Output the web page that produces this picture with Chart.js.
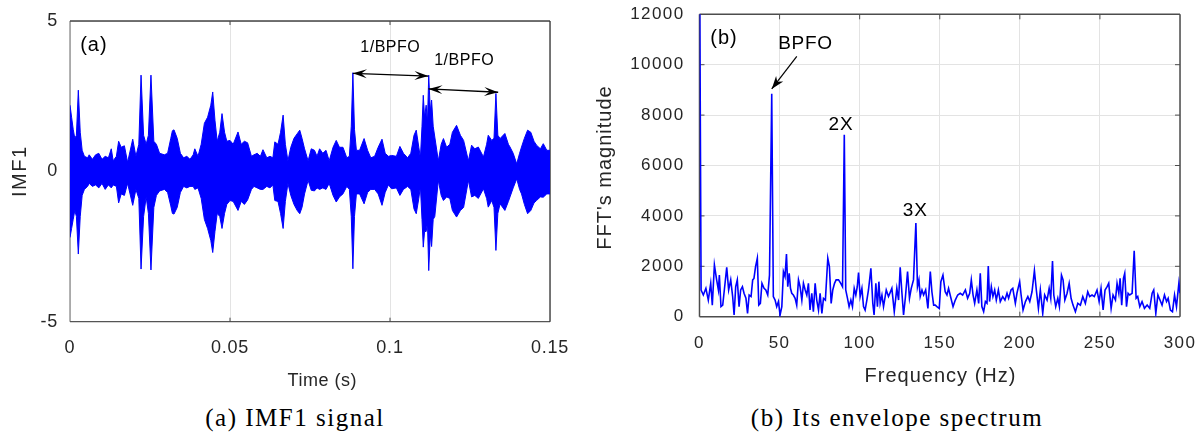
<!DOCTYPE html>
<html>
<head>
<meta charset="utf-8">
<script src="https://cdn.jsdelivr.net/npm/chart.js@4.4.1/dist/chart.umd.min.js"></script>
<style>
  html, body { margin: 0; padding: 0; background: #fff; }
  body { width: 1203px; height: 436px; position: relative; overflow: hidden; }
  .pane { position: absolute; top: 0; height: 400px; }
  .cap {
    position: absolute; top: 403px; line-height: 30px;
    font-family: "Liberation Serif", "Times New Roman", serif; font-size: 25px;
    letter-spacing: 1.5px;
    color: #000; white-space: nowrap; transform: translateX(-50%);
  }
</style>
</head>
<body>
<div class="pane" style="left:0;width:590px"><canvas id="imf" width="590" height="400"></canvas></div>
<div class="pane" style="left:590px;width:613px"><canvas id="spec" width="613" height="400"></canvas></div>
<div class="cap" style="left:295px">(a) IMF1 signal</div>
<div class="cap" style="left:897px">(b) Its envelope spectrum</div>

<script>
// ---- IMF1 signal: time stamps (ms) with upper / lower envelope of the oscillation ----
const timeMs = [
  0, 0.5, 1, 1.5, 2, 2.6, 3.2, 3.8, 4.5, 5.5,
  6, 7, 8, 9, 10, 11, 12, 12.9, 13.5, 14.5,
  15.2, 16, 17, 18, 19.6, 20.6, 21.5, 22.2, 23, 23.8,
  24.5, 25.3, 26.2, 27, 28, 29.5, 30.5, 31.5, 32, 32.5,
  33.5, 34.5, 35.5, 36.5, 37.5, 38.5, 39, 40, 41, 42,
  43, 44, 44.6, 45.3, 46, 46.8, 47.5, 48.3, 49, 50,
  51, 52.5, 53.5, 54.5, 55.5, 56.7, 57.5, 58.5, 59.5, 60.3,
  61.5, 62.5, 63.4, 64, 65, 65.8, 66.6, 67.3, 68.1, 69,
  70, 71, 71.8, 72.5, 73.3, 74.4, 75.4, 76.4, 77.2, 78,
  79, 80, 81, 82.2, 83.2, 84.2, 85.3, 86.5, 87.3, 87.9,
  88.4, 88.9, 89.5, 90.5, 91.9, 93, 94, 95.2, 96.3, 97.5,
  98.5, 99.5, 100.5, 102, 103.1, 104.2, 105.5, 106.5, 107.5, 108.2,
  109, 109.5, 110, 110.4, 110.8, 111.3, 111.7, 112.1, 112.6, 113,
  113.5, 114, 115.1, 116, 116.7, 117.7, 118.7, 119.5, 120.8, 122,
  123, 124.5, 125.5, 126.5, 127.6, 129.2, 130.2, 130.7, 131.8, 132.5,
  133.1, 133.7, 134.4, 135.9, 137, 137.5, 138.5, 139.6, 140.5, 141.1,
  142, 143, 144, 145, 145.8, 147, 147.9, 149, 150
];
const imfUpper = [
  2.2, 1.8, 1.4, 1.1, 1.2, 2.7, 1.3, 0.7, 0.5, 0.45,
  0.55, 0.4, 0.55, 0.6, 0.4, 0.5, 0.45, 0.75, 0.35, 0.5,
  1.0, 0.8, 0.85, 0.3, 1.07, 0.5, 0.9, 3.2, 1.2, 0.9,
  1.2, 3.2, 1.0, 0.9, 0.6, 0.55, 0.6, 1.1, 1.35, 1.38,
  1.1, 0.6, 0.45, 0.5, 0.4, 0.55, 0.75, 0.5, 0.9, 1.6,
  1.8, 2.2, 2.64, 1.7, 1.0, 1.3, 1.92, 1.3, 1.0, 1.03,
  0.9, 1.31, 0.9, 1.0, 0.95, 0.5, 0.55, 0.6, 0.5, 0.72,
  0.45, 0.5, 0.45, 0.98, 0.9, 1.3, 1.87, 0.9, 0.35, 0.8,
  1.1, 1.25, 1.37, 1.1, 0.75, 0.35, 0.75, 0.7, 0.5, 0.75,
  0.6, 0.7, 0.35, 0.8, 1.03, 0.8, 0.8, 0.45, 0.5, 1.5,
  3.28, 1.4, 0.7, 0.7, 1.09, 0.7, 0.45, 0.5, 0.8, 1.07,
  0.6, 0.5, 0.53, 0.5, 0.83, 0.6, 0.45, 0.6, 1.2, 1.37,
  0.8, 0.45, 1.5, 2.53, 1.8, 2.2, 1.6, 3.2, 2.0, 2.37,
  1.5, 1.14, 0.35, 0.9, 1.09, 0.8, 0.9, 1.3, 1.53, 1.2,
  1.03, 0.35, 0.87, 0.75, 0.81, 0.48, 0.9, 1.2, 1.03, 1.1,
  2.59, 1.2, 1.09, 1.26, 0.9, 0.81, 0.6, 0.25, 0.6, 0.81,
  1.1, 1.37, 1.3, 1.0, 0.87, 0.75, 0.92, 0.7, 0.7
];
const imfLower = [
  -2.2, -1.9, -1.6, -1.3, -1.5, -2.75, -1.5, -0.8, -0.6, -0.5,
  -0.4, -0.5, -0.45, -0.55, -0.4, -0.6, -0.45, -0.55, -0.45, -0.5,
  -1.05, -0.75, -0.8, -0.4, -1.13, -0.6, -0.9, -3.25, -1.5, -0.85,
  -1.4, -3.28, -1.2, -0.8, -0.65, -0.6, -0.7, -1.15, -1.4, -1.42,
  -1.2, -0.7, -0.5, -0.55, -0.5, -0.5, -0.6, -0.55, -0.9, -1.6,
  -1.9, -2.3, -2.7, -2.0, -1.4, -1.5, -1.9, -1.4, -1.1, -0.97,
  -1.0, -1.3, -1.0, -1.1, -0.95, -0.6, -0.5, -0.55, -0.6, -0.6,
  -0.5, -0.55, -0.45, -0.97, -1.0, -1.4, -1.9, -1.0, -0.4, -0.8,
  -1.1, -1.3, -1.41, -1.2, -0.75, -0.3, -0.63, -0.65, -0.55, -0.6,
  -0.55, -0.6, -0.4, -0.8, -1.02, -0.85, -0.75, -0.5, -0.6, -1.5,
  -3.24, -1.5, -0.75, -0.75, -1.08, -0.7, -0.6, -0.6, -0.75, -1.13,
  -0.7, -0.45, -0.58, -0.55, -0.8, -0.6, -0.5, -0.6, -1.25, -1.41,
  -0.9, -0.5, -1.6, -2.52, -2.0, -2.0, -1.7, -3.3, -2.1, -2.5,
  -1.6, -1.5, -0.3, -0.8, -0.97, -0.85, -0.9, -1.3, -1.52, -1.3,
  -1.2, -0.3, -0.85, -0.8, -0.9, -0.58, -0.9, -1.19, -0.97, -1.2,
  -2.63, -1.4, -1.08, -1.3, -1.0, -0.85, -0.55, -0.25, -0.6, -0.75,
  -1.1, -1.41, -1.3, -1.05, -0.97, -0.85, -0.86, -0.75, -0.75
];
const timeTicks = [0, 0.05, 0.1, 0.15];
const imfTicks = [-5, 0, 5];

// ---- Envelope spectrum ----
const freqHz = [
  0, 1, 2.4, 4, 5.5, 7, 8, 9.3, 10.7, 11.8,
  12.4, 13.4, 14.5, 15.5, 17, 18.2, 19.5, 20.7, 21.6, 22.6,
  23.6, 24.7, 25.7, 26.8, 27.8, 29, 30, 31, 32.2, 33.2,
  34, 35, 36.1, 37, 38, 39, 40.3, 41.4, 42.6, 43.7,
  45.1, 46.1, 47.2, 48.2, 49.3, 50.3, 51.4, 52.4, 53.4, 54.3,
  55.1, 56, 56.8, 57.6, 58.6, 59.7, 60.7, 61.8, 62.8, 63.9,
  64.9, 66, 67, 68, 69, 70.1, 71.1, 72.2, 73.2, 74.3,
  75.3, 76.4, 77.4, 78.6, 80.1, 81.1, 82.2, 83.2, 84.3, 85.3,
  86.8, 88.2, 89.3, 90.4, 91.3, 92.4, 93.4, 94.5, 95.5, 96.6,
  97.6, 98.5, 99.3, 100.3, 101.4, 102.4, 103.4, 104.5, 105.5, 107,
  108.2, 109, 110.1, 111.1, 112, 112.8, 113.9, 114.9, 116.6, 118,
  120.1, 121.6, 123.2, 124.3, 125.3, 126.4, 127.4, 128.6, 129.9, 131.1,
  132.2, 133.6, 135.1, 136.1, 137, 137.8, 138.9, 139.9, 141.2, 142.6,
  144.1, 145.1, 146.2, 147.2, 148.2, 149.7, 150.7, 152, 153.4, 154.5,
  155.5, 157, 158.3, 159.7, 161.2, 162.8, 164.3, 166, 167.4, 168.7,
  169.7, 170.8, 171.8, 173.2, 174.3, 175.3, 176.3, 177.4, 178.5, 179.5,
  180.3, 181.1, 182.2, 183.2, 184.3, 185.3, 186.6, 187.8, 189.3, 190.7,
  192, 193, 194.5, 195.6, 197.2, 198.2, 199.9, 200.8, 202, 203.5,
  205, 206.2, 207.6, 209.1, 210.3, 211.6, 212.8, 214.3, 215.5, 217,
  218.3, 219.3, 220.4, 221.2, 222.4, 223.7, 224.7, 226, 227, 228.1,
  229.5, 230.8, 232, 233.2, 234.7, 236.2, 237.8, 239.3, 240.9, 242.4,
  243.6, 245.1, 246.5, 248.2, 249.5, 250.7, 252, 253.2, 254.5, 255.5,
  257, 258.2, 259.7, 260.7, 261.8, 262.6, 263.6, 264.7, 265.5, 266.6,
  267.6, 268.6, 270.1, 271.4, 272.6, 273.6, 274.9, 276.3, 277.8, 279.5,
  281.1, 282.6, 283.6, 284.9, 286.2, 287.5, 288.8, 290.3, 291.6, 292.6,
  294, 295.3, 296.6, 297.8, 299.3, 300
];
const fftMag = [
  15000, 1060, 860, 1126, 660, 1325, 460, 2050, 1460, 1060,
  1650, 400, 460, 1060, 1960, 1060, 1460, 800, 66, 1190,
  1460, 400, 1060, 1190, 930, 730, 130, 860, 800, 1460,
  1520, 1990, 2320, 460, 530, 1325, 1126, 1060, 860, 1650,
  8850, 800, 660, 400, 600, 66, 400, 1790, 1590, 2490,
  1190, 1720, 1126, 930, 860, 730, 460, 1460, 1190, 660,
  1325, 1060, 860, 1325, 265, 930, 200, 1325, 660, 265,
  930, 130, 730, 660, 2320, 1990, 530, 1060, 1325, 1460,
  1460, 1325, 1190, 7220, 1060, 730, 400, 660, 400, 1126,
  860, 1190, 1750, 800, 1126, 400, 265, 660, 1060, 1920,
  530, 66, 1325, 400, 1390, 530, 860, 400, 1060, 800,
  1126, 200, 1126, 660, 1960, 930, 66, 800, 1790, 730,
  1126, 1460, 3720, 1190, 1460, 800, 1060, 860, 1060, 330,
  1790, 990, 460, 460, 400, 330, 1390, 1650, 990, 860,
  1126, 730, 400, 660, 860, 930, 860, 1060, 730, 930,
  1460, 860, 530, 1060, 530, 1720, 400, 200, 600, 530,
  2010, 600, 1190, 800, 1060, 660, 1060, 600, 800, 660,
  930, 730, 1060, 1126, 530, 930, 1390, 860, 265, 600,
  800, 600, 990, 1830, 1060, 330, 1060, 130, 860, 660,
  1126, 730, 2210, 860, 400, 730, 400, 1650, 1460, 660,
  930, 1325, 730, 460, 200, 530, 460, 800, 530, 990,
  800, 860, 800, 1060, 600, 1126, 265, 1060, 1190, 1325,
  330, 860, 660, 1325, 930, 1520, 460, 1520, 1720, 400,
  930, 860, 930, 2620, 730, 800, 400, 600, 330, 460,
  330, 930, 1060, 130, 860, 660, 460, 860, 600, 730,
  265, 200, 860, 400, 1325, 930
];
const freqTicks = [0, 50, 100, 150, 200, 250, 300];
const magTicks = [0, 2000, 4000, 6000, 8000, 10000, 12000];

const SANS = '"Liberation Sans", Arial, sans-serif';
Chart.defaults.font.family = SANS;
Chart.defaults.color = '#262626';

// ---- drawing helpers ----
function label(ctx, text, x, y, size, opt = {}) {
  ctx.save();
  ctx.font = size + 'px ' + SANS;
  ctx.letterSpacing = (opt.spacing || 0) + 'px';
  ctx.fillStyle = opt.color || '#000';
  ctx.textAlign = 'center';
  ctx.textBaseline = 'middle';
  ctx.translate(x, y);
  if (opt.rotate) ctx.rotate(opt.rotate);
  ctx.fillText(text, (opt.spacing || 0) / 2, 0);
  ctx.restore();
}
function head(ctx, x0, y0, x1, y1, len, half, notch) {
  const a = Math.atan2(y1 - y0, x1 - x0), c = Math.cos(a), s = Math.sin(a);
  const bx = x1 - c * len, by = y1 - s * len;
  const nx = x1 - c * len * notch, ny = y1 - s * len * notch;
  ctx.beginPath();
  ctx.moveTo(x1, y1);
  ctx.lineTo(bx - s * half, by + c * half);
  ctx.lineTo(nx, ny);
  ctx.lineTo(bx + s * half, by - c * half);
  ctx.closePath();
  ctx.fill();
}
function arrow(ctx, x0, y0, x1, y1, both, len, half, notch) {
  ctx.beginPath();
  ctx.moveTo(x0, y0);
  ctx.lineTo(x1, y1);
  ctx.stroke();
  head(ctx, x0, y0, x1, y1, len, half, notch);
  if (both) head(ctx, x1, y1, x0, y0, len, half, notch);
}
function frame(ctx, a, colors, width) {
  ctx.save();
  ctx.lineWidth = width;
  const seg = (c, x0, y0, x1, y1) => { ctx.strokeStyle = c; ctx.beginPath(); ctx.moveTo(x0, y0); ctx.lineTo(x1, y1); ctx.stroke(); };
  seg(colors[0], a.left, a.top, a.left, a.bottom);
  seg(colors[1], a.left, a.bottom, a.right, a.bottom);
  seg(colors[2], a.left, a.top, a.right, a.top);
  seg(colors[3], a.right, a.top, a.right, a.bottom);
  ctx.restore();
}
function innerTicks(ctx, chart, xs, ys, len, color) {
  const { chartArea: a, scales: { x, y } } = chart;
  ctx.save();
  ctx.strokeStyle = color;
  ctx.lineWidth = 1;
  ctx.beginPath();
  xs.forEach(v => { const p = x.getPixelForValue(v); ctx.moveTo(p, a.bottom); ctx.lineTo(p, a.bottom - len); ctx.moveTo(p, a.top); ctx.lineTo(p, a.top + len); });
  ys.forEach(v => { const p = y.getPixelForValue(v); ctx.moveTo(a.left, p); ctx.lineTo(a.left + len, p); ctx.moveTo(a.right, p); ctx.lineTo(a.right - len, p); });
  ctx.stroke();
  ctx.restore();
}
// tick labels of both panels use a slightly opened letter spacing
const spacedTicks = px => ({
  id: 'spacedTicks',
  beforeDraw(chart) { chart.ctx.letterSpacing = px + 'px'; },
  afterDraw(chart) { chart.ctx.letterSpacing = '0px'; }
});

// ---- panel (a) decorations ----
const imfDecor = {
  id: 'imfDecor',
  beforeDatasetsDraw(chart) {
    const { ctx, chartArea: a } = chart;
    ctx.save(); ctx.letterSpacing = '0px';
    frame(ctx, a, ['#8a8a8a', '#555', '#444', '#333'], 1.3);
    innerTicks(ctx, chart, [0.05, 0.1], [], 4, '#444');
    ctx.restore();
  },
  afterDraw(chart) {
    const { ctx, scales: { x, y } } = chart;
    const px = v => x.getPixelForValue(v), py = v => y.getPixelForValue(v);
    label(ctx, '(a)', px(0.0073), py(4.17), 20, { spacing: 1 });
    label(ctx, '1/BPFO', px(0.1), py(4.1), 16, { spacing: 0.5 });
    label(ctx, '1/BPFO', px(0.1231), py(3.67), 16, { spacing: 0.5 });
    ctx.save();
    ctx.letterSpacing = '0px';
    ctx.strokeStyle = '#000'; ctx.fillStyle = '#000'; ctx.lineWidth = 1.3;
    arrow(ctx, px(0.0884), py(3.26), px(0.1120), py(3.17), true, 14, 4.5, 0.6);
    arrow(ctx, px(0.1120), py(2.74), px(0.1338), py(2.63), true, 14, 4.5, 0.6);
    ctx.restore();
    label(ctx, 'IMF1', 20, 172, 20, { rotate: -Math.PI / 2, color: '#262626', spacing: 1.5 });
    label(ctx, 'Time (s)', 322, 381, 18, { color: '#262626', spacing: 0.5 });
  }
};

// ---- panel (b) decorations ----
const specDecor = {
  id: 'specDecor',
  beforeDatasetsDraw(chart) {
    const { ctx, chartArea: a } = chart;
    ctx.save(); ctx.letterSpacing = '0px';
    frame(ctx, a, ['#4d4d4d', '#4d4d4d', '#4d4d4d', '#4d4d4d'], 1.5);
    innerTicks(ctx, chart, freqTicks.slice(1, -1), magTicks.slice(1, -1), 5, '#4d4d4d');
    ctx.restore();
  },
  afterDraw(chart) {
    const { ctx, scales: { x, y } } = chart;
    const px = v => x.getPixelForValue(v), py = v => y.getPixelForValue(v);
    label(ctx, '(b)', px(15), py(11036), 20, { spacing: 1 });
    label(ctx, 'BPFO', px(65.9), py(10817), 19, { spacing: 0.7 });
    label(ctx, '2X', px(88.1), py(7598), 19, { spacing: 1 });
    label(ctx, '3X', px(134.5), py(4200), 19, { spacing: 1 });
    ctx.save();
    ctx.letterSpacing = '0px';
    ctx.strokeStyle = '#000'; ctx.fillStyle = '#000'; ctx.lineWidth = 1.2;
    arrow(ctx, px(60.75), py(10332), px(45.1), py(9037), false, 13, 4.5, 0.7);
    ctx.restore();
    label(ctx, "FFT's magnitude", 15, 168, 20, { rotate: -Math.PI / 2, color: '#262626', spacing: 1 });
    label(ctx, 'Frequency (Hz)', 350, 376, 20, { color: '#262626', spacing: 1 });
  }
};

const fixedTicks = list => s => { s.ticks = list.map(v => ({ value: v })); };
// fixed axis box sizes; label overhang must not shrink the plot area
const fitX = h => s => { s.height = h; s.paddingLeft = 0; s.paddingRight = 0; };
const fitY = w => s => { s.width = w; s.paddingTop = 0; s.paddingBottom = 0; };
const common = {
  responsive: false,
  animation: false,
  events: [],
  plugins: { legend: { display: false }, tooltip: { enabled: false } }
};

new Chart(document.getElementById('imf'), {
  type: 'line',
  data: {
    datasets: [
      {
        data: timeMs.map((t, i) => ({ x: t / 1000, y: imfUpper[i] })),
        borderColor: '#0000ff', backgroundColor: '#0000ff', borderWidth: 1,
        pointRadius: 0, tension: 0, fill: '+1'
      },
      {
        data: timeMs.map((t, i) => ({ x: t / 1000, y: imfLower[i] })),
        borderColor: '#0000ff', borderWidth: 1, pointRadius: 0, tension: 0, fill: false
      }
    ]
  },
  options: {
    ...common,
    layout: { padding: { top: 21, right: 40, left: 0, bottom: 0 } },
    scales: {
      x: {
        type: 'linear', min: 0, max: 0.15,
        afterBuildTicks: fixedTicks(timeTicks),
        afterFit: fitX(78.3),
        grid: { color: '#e3e3e3', drawTicks: false },
        border: { display: false },
        ticks: { font: { size: 18 }, padding: 16, maxRotation: 0, callback: v => String(+v.toFixed(2)) }
      },
      y: {
        min: -5, max: 5,
        afterBuildTicks: fixedTicks(imfTicks),
        afterFit: fitY(70),
        grid: { color: '#e3e3e3', drawTicks: false },
        border: { display: false },
        ticks: { font: { size: 18 }, padding: 12 }
      }
    }
  },
  plugins: [spacedTicks(0.8), imfDecor]
});

new Chart(document.getElementById('spec'), {
  type: 'line',
  data: {
    datasets: [{
      data: freqHz.map((f, i) => ({ x: f, y: fftMag[i] })),
      borderColor: '#0000ff', borderWidth: 1.6, pointRadius: 0, tension: 0, fill: false
    }]
  },
  options: {
    ...common,
    layout: { padding: { top: 14.3, right: 23, left: 0, bottom: 0 } },
    scales: {
      x: {
        type: 'linear', min: 0, max: 300,
        afterBuildTicks: fixedTicks(freqTicks),
        afterFit: fitX(83.3),
        grid: { color: '#e3e3e3', drawTicks: false },
        border: { display: false },
        ticks: { font: { size: 17 }, padding: 16, maxRotation: 0 }
      },
      y: {
        min: 0, max: 12000,
        afterBuildTicks: fixedTicks(magTicks),
        afterFit: fitY(109.5),
        grid: { color: '#e3e3e3', drawTicks: false },
        border: { display: false },
        ticks: { font: { size: 17 }, padding: 15, callback: v => String(v) }
      }
    }
  },
  plugins: [spacedTicks(1.4), specDecor]
});
</script>
</body>
</html>
